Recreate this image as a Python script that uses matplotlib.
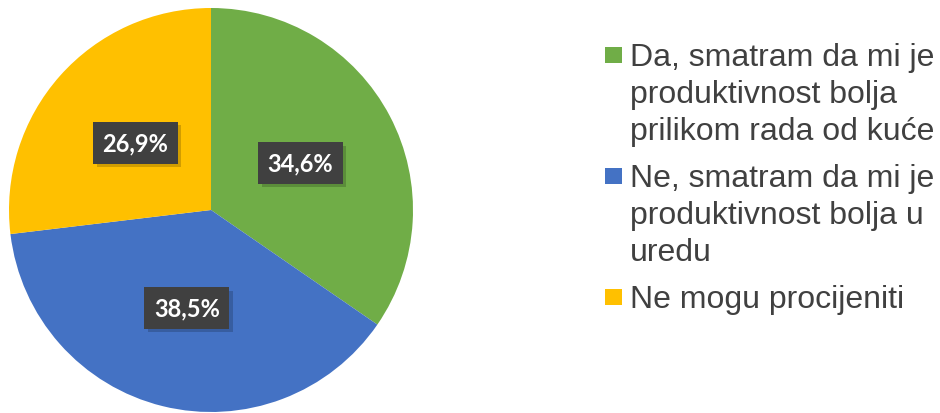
import matplotlib
matplotlib.use("Agg")
import matplotlib.pyplot as plt
from matplotlib.patches import Rectangle
import matplotlib.patheffects as pe

categories = [
    "Da, smatram da mi je\nproduktivnost bolja\nprilikom rada od kuće",
    "Ne, smatram da mi je\nproduktivnost bolja u\nuredu",
    "Ne mogu procijeniti",
]
values = [34.6, 38.5, 26.9]
labels = ["34,6%", "38,5%", "26,9%"]
colors = ["#70AD47", "#4472C4", "#FFC000"]

W, H = 940, 414
fig = plt.figure(figsize=(W / 100, H / 100), dpi=100)
cx, cy, r = 211, 211, 202
ax = fig.add_axes([(cx - r) / W, (H - cy - r) / H, 2 * r / W, 2 * r / H])
wedges, texts = ax.pie(values, colors=colors, startangle=90, counterclock=False,
                       radius=1, labels=labels, labeldistance=0.5,
                       wedgeprops=dict(edgecolor="none", linewidth=0))
for t in texts:
    t.set_ha("center"); t.set_va("center")
    t.set_color("white")
    t.set_fontfamily("Lato")
    t.set_fontweight("bold")
    t.set_fontsize(17)
    t.set_bbox(dict(boxstyle="square,pad=0.4", facecolor="#404040", edgecolor="none"))
    t.get_bbox_patch().set_path_effects(
        [pe.SimplePatchShadow(offset=(2.5, -2.5), shadow_rgbFace="black", alpha=0.18), pe.Normal()])
ax.set_xlim(-1, 1); ax.set_ylim(-1, 1)
ax.set_aspect("equal")
ax.axis("off")

# legend drawn manually (pixel layout)
line_step = 37
item_gap = 47
text_x = 630
sq_x = 605
sq = 16.5
baseline = 66
for cat, col in zip(categories, colors):
    lines = cat.split("\n")
    fig.add_artist(Rectangle((sq_x / W, 1 - (baseline - 2) / H), sq / W, sq / H,
                             transform=fig.transFigure, facecolor=col, edgecolor="none"))
    for i, ln in enumerate(lines):
        fig.text(text_x / W, 1 - (baseline + i * line_step) / H, ln,
                 ha="left", va="baseline", fontsize=23,
                 family="Liberation Sans", color="#404040")
    baseline += (len(lines) - 1) * line_step + item_gap

fig.savefig("out.png", dpi=100)
